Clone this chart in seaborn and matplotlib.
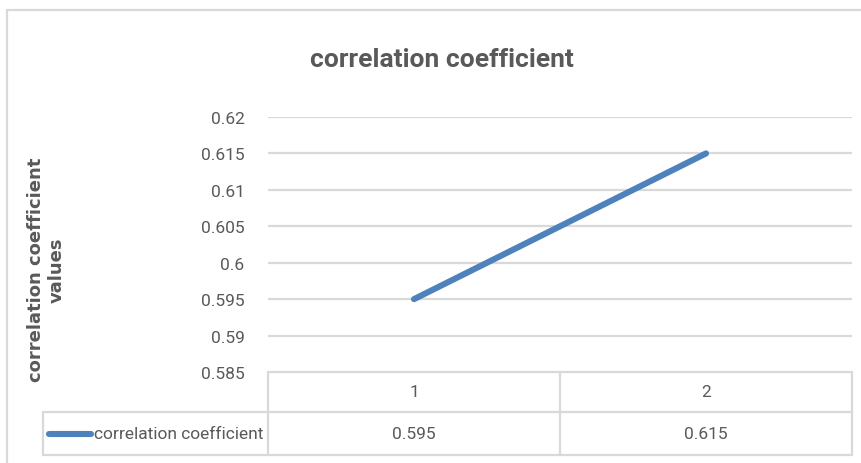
import matplotlib
matplotlib.use("Agg")
import matplotlib.pyplot as plt
import matplotlib.transforms as mtransforms
from matplotlib.lines import Line2D
import seaborn as sns

# Chart data
categories = ["1", "2"]
values = [0.595, 0.615]
series_name = "correlation coefficient"
title = "correlation coefficient"
y_label = "correlation coefficient\nvalues"
y_ticks = [0.585, 0.59, 0.595, 0.6, 0.605, 0.61, 0.615, 0.62]
y_tick_labels = ["0.585", "0.59", "0.595", "0.6", "0.605", "0.61", "0.615", "0.62"]

sns.set_theme(style="white")
plt.rcParams["font.family"] = ["Roboto", "DejaVu Sans"]

TEXT = "#595959"
GRID = "#d9d9d9"
LINE = "#4f81bd"
SMALL = 12.5

W, H = 862, 464
fig = plt.figure(figsize=(W / 100, H / 100), dpi=100)


def fx(px):
    return px / W


def fy(py):
    return 1 - py / H


def fig_line(xs, ys, **kw):
    fig.lines.append(Line2D([fx(v) for v in xs], [fy(v) for v in ys],
                            transform=fig.transFigure, **kw))


# outer chart frame (top and left edges)
fig_line([7, 870], [11, 11], color=GRID, lw=1.6)
fig_line([7, 7], [11, 470], color=GRID, lw=1.6)

left, right, top, bottom = 268, 852, 118, 373
ax = fig.add_axes([fx(left), fy(bottom), fx(right) - fx(left), fy(top) - fy(bottom)])

positions = list(range(len(categories)))
sns.lineplot(x=positions, y=values, ax=ax, color=LINE, lw=4.4,
             solid_capstyle="round", legend=False)

ax.set_xlim(-0.5, len(categories) - 0.5)
ax.set_ylim(y_ticks[0], y_ticks[-1])
ax.set_yticks(y_ticks)
ax.set_yticklabels(y_tick_labels)
ax.set_xticks([])
ax.tick_params(axis="y", length=0, pad=17, labelsize=SMALL, labelcolor=TEXT)
for s in ax.spines.values():
    s.set_visible(False)
ax.grid(False)
for t in y_ticks[1:]:
    ax.axhline(t, color=GRID, lw=1.6, zorder=0)
ax.set_xlabel("")
ax.set_ylabel("")

# title
fig.text(fx(442), fy(60), title, ha="center", va="center",
         fontsize=19, color=TEXT, fontweight="bold")

# rotated axis title
fig.text(fx(46), fy(270), y_label, rotation=90, ha="center", va="center",
         fontsize=13, color=TEXT, fontweight="bold", family="DejaVu Sans",
         linespacing=1.2, multialignment="center")

# data table under the plot
blend = mtransforms.blended_transform_factory(ax.transData, fig.transFigure)
row_top, row_mid, row_bot = 373, 413, 456
table_left = 43

fig_line([left, right], [row_top, row_top], color=GRID, lw=1.6)
for yy in (row_mid, row_bot):
    fig_line([table_left, right], [yy, yy], color=GRID, lw=1.6)
fig_line([table_left, table_left], [row_mid, row_bot], color=GRID, lw=1.6)
for xb in [p - 0.5 for p in positions] + [positions[-1] + 0.5]:
    fig.lines.append(Line2D([xb, xb], [fy(row_top), fy(row_bot)], transform=blend,
                            color=GRID, lw=1.6))

for p, cat, val in zip(positions, categories, values):
    fig.text(p, fy((row_top + row_mid) / 2), cat, transform=blend, ha="center",
             va="center", fontsize=SMALL, color=TEXT)
    fig.text(p, fy((row_mid + row_bot) / 2), f"{val:g}", transform=blend, ha="center",
             va="center", fontsize=SMALL, color=TEXT)

# series key in the table
ymid = fy((row_mid + row_bot) / 2)
fig.lines.append(Line2D([fx(49), fx(91)], [ymid, ymid], transform=fig.transFigure,
                        color=LINE, lw=4.4, solid_capstyle="round"))
fig.text(fx(94), ymid, series_name, ha="left", va="center", fontsize=SMALL, color=TEXT)

fig.savefig("out.png", dpi=100, facecolor="white")
